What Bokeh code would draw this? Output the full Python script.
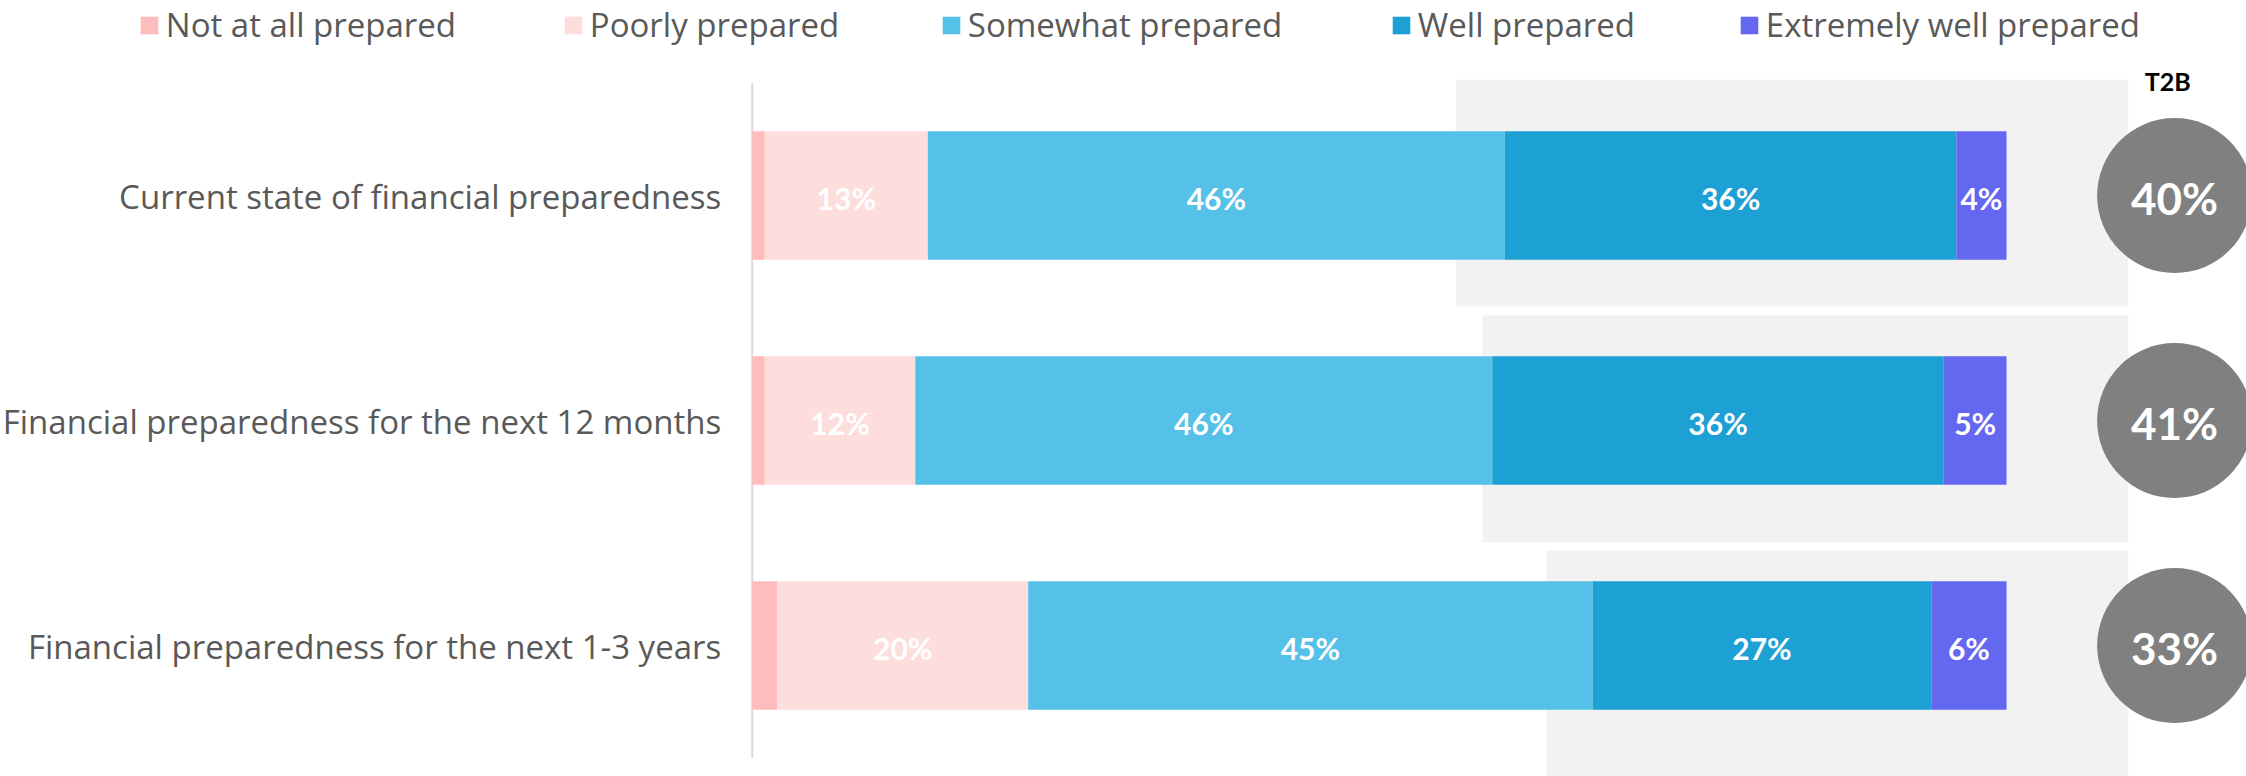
from bokeh.plotting import figure
from bokeh.models import ColumnDataSource, Range1d, Legend, LegendItem
from bokeh.core.properties import value
from bokeh.embed import file_html
from bokeh.resources import INLINE

# ---------------- data ----------------
categories = [
    "Current state of financial preparedness",
    "Financial preparedness for the next 12 months",
    "Financial preparedness for the next 1-3 years",
]
series_names = ["Not at all prepared", "Poorly prepared", "Somewhat prepared",
                "Well prepared", "Extremely well prepared"]
not_at_all = [1, 1, 2]
poorly = [13, 12, 20]
somewhat = [46, 46, 45]
well = [36, 36, 27]
extremely = [4, 5, 6]
t2b = [40, 41, 33]
t2b_title = "T2B"

# ---------------- style / layout ----------------
colors = ["#FFBCBC", "#FDDEDD", "#56C1E8", "#1DA1D4", "#6467F0"]
show_label = [False, True, True, True, True]
panel_left = [56.1, 58.2, 63.3]      # grey highlight panels (x units)
panel_right = 109.7
panel_top_off = [0.515, 0.467, 0.422]
panel_bot_off = [-0.492, -0.541, -0.62]
t2b_x = 113.4
label_font = "Open Sans"
value_font = "Lato"

W, H = 2246, 776
p = figure(width=W, height=H, output_backend="svg", toolbar_location=None,
           x_range=Range1d(-59.93, 119.13), y_range=Range1d(-0.582, 2.867),
           x_axis_location=None, y_axis_location=None, min_border=0)
p.outline_line_color = None
p.grid.visible = False
p.background_fill_color = "white"
p.border_fill_color = "white"

n = len(categories)
ypos = [n - 1 - i for i in range(n)]

# grey panels
p.quad(left=panel_left, right=[panel_right] * n,
       top=[y + o for y, o in zip(ypos, panel_top_off)],
       bottom=[y + o for y, o in zip(ypos, panel_bot_off)],
       fill_color="#F2F2F2", line_color=None)

# vertical axis line
p.segment(x0=[0], x1=[0], y0=[min(ypos) - 0.5], y1=[max(ypos) + 0.5],
          line_color="#D9D9D9", line_width=2)

# stacked bars
series = [not_at_all, poorly, somewhat, well, extremely]
left = [0.0] * n
renderers = []
for vals, col, show in zip(series, colors, show_label):
    right = [l + v for l, v in zip(left, vals)]
    src = ColumnDataSource(dict(y=ypos, left=left, right=right,
                                mid=[(l + r) / 2 for l, r in zip(left, right)],
                                lab=[f"{v}%" for v in vals]))
    r = p.hbar(y="y", left="left", right="right", height=0.571, source=src,
               fill_color=col, line_color=None)
    renderers.append(r)
    if show:
        p.text(x="mid", y="y", text="lab", source=src, text_align="center",
               text_baseline="middle", text_color="white",
               text_font=value(value_font), text_font_style="bold",
               text_font_size="30px", y_offset=2)
    left = right

# category labels
p.text(x=[0] * n, y=ypos, text=categories, x_offset=-31, text_align="right",
       text_baseline="middle", text_color="#595959", text_font=value(label_font),
       text_font_size="33px", y_offset=1)

# T2B circles
p.scatter(x=[t2b_x] * n, y=ypos, size=155, marker="circle",
          fill_color="#808080", line_color=None)
p.text(x=[t2b_x] * n, y=ypos, text=[f"{v}%" for v in t2b], text_align="center",
       text_baseline="middle", text_color="white", text_font=value(value_font),
       text_font_style="bold", text_font_size="44px", y_offset=2)
p.text(x=[t2b_x], y=[ypos[0]], text=[t2b_title], x_offset=-7, y_offset=-115,
       text_align="center", text_baseline="middle", text_color="black",
       text_font=value(value_font), text_font_style="bold", text_font_size="25px")

# legend: one item each, placed individually (area swatches are inset 10%)
legend_x = [140, 564, 942, 1392, 1740]
for name, r, lx in zip(series_names, renderers, legend_x):
    leg = Legend(items=[LegendItem(label=name, renderers=[r])],
                 location=(lx - 2.2, H - 47), orientation="horizontal",
                 glyph_width=22, glyph_height=22, label_standoff=6,
                 label_height=22, padding=0, margin=0, spacing=0,
                 border_line_color=None, background_fill_alpha=0,
                 label_text_font=label_font, label_text_font_size="33px",
                 label_text_color="#595959")
    p.add_layout(leg)

open("out.html", "w").write(file_html(p, INLINE))
